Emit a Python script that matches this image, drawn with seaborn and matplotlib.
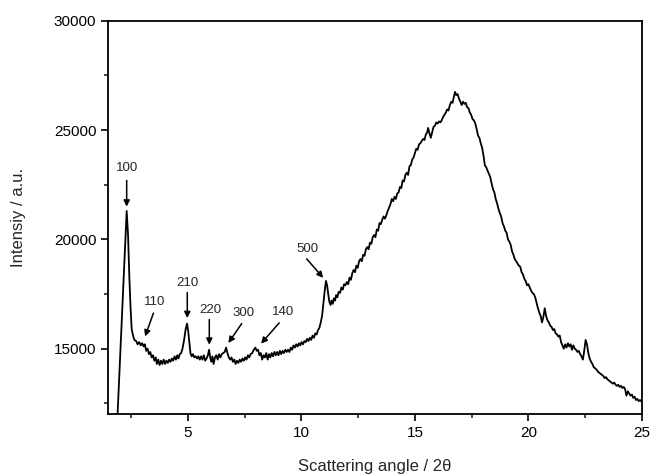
import pandas as pd
import matplotlib
matplotlib.use('Agg')
import matplotlib.pyplot as plt
import seaborn as sns

# -------------------------
# Data
# -------------------------
two_theta = [
    1.89, 2.30, 2.36, 2.42, 2.47, 2.52, 2.58, 2.64, 2.72, 2.78, 2.85, 2.92, 2.98, 3.05, 3.10,
    3.16, 3.22, 3.28, 3.34, 3.40, 3.46, 3.52, 3.58, 3.63, 3.69, 3.75, 3.81, 3.87, 3.93, 3.99,
    4.05, 4.11, 4.17, 4.23, 4.29, 4.35, 4.41, 4.47, 4.53, 4.58, 4.64, 4.70, 4.76, 4.83, 4.90,
    4.96, 5.01, 5.06, 5.11, 5.16, 5.22, 5.28, 5.34, 5.40, 5.46, 5.52, 5.58, 5.64, 5.70, 5.76,
    5.82, 5.88, 5.93, 5.98, 6.03, 6.08, 6.13, 6.19, 6.25, 6.31, 6.37, 6.43, 6.49, 6.55, 6.62,
    6.68, 6.74, 6.80, 6.86, 6.92, 6.98, 7.04, 7.10, 7.16, 7.22, 7.28, 7.34, 7.40, 7.46, 7.52,
    7.58, 7.64, 7.70, 7.76, 7.83, 7.90, 7.97, 8.03, 8.09, 8.15, 8.21, 8.27, 8.33, 8.39, 8.45,
    8.51, 8.57, 8.63, 8.69, 8.75, 8.81, 8.87, 8.93, 8.99, 9.05, 9.11, 9.17, 9.23, 9.29, 9.35,
    9.41, 9.47, 9.53, 9.59, 9.65, 9.71, 9.77, 9.83, 9.89, 9.95, 10.01, 10.07, 10.13, 10.19, 10.25,
    10.31, 10.37, 10.43, 10.49, 10.55, 10.61, 10.67, 10.73, 10.79, 10.85, 10.91, 10.96, 11.02, 11.08, 11.13,
    11.18, 11.23, 11.28, 11.33, 11.38, 11.43, 11.48, 11.53, 11.58, 11.64, 11.70, 11.76, 11.82, 11.88, 11.94,
    12.00, 12.06, 12.12, 12.18, 12.24, 12.30, 12.36, 12.42, 12.48, 12.54, 12.60, 12.66, 12.72, 12.78, 12.84,
    12.90, 12.96, 13.02, 13.08, 13.14, 13.20, 13.26, 13.32, 13.38, 13.44, 13.50, 13.56, 13.62, 13.68, 13.74,
    13.80, 13.86, 13.92, 13.98, 14.04, 14.10, 14.16, 14.22, 14.28, 14.34, 14.40, 14.46, 14.52, 14.58, 14.64,
    14.70, 14.76, 14.82, 14.88, 14.94, 15.00, 15.06, 15.12, 15.18, 15.24, 15.30, 15.36, 15.42, 15.48, 15.54,
    15.58, 15.64, 15.70, 15.76, 15.82, 15.88, 15.94, 16.00, 16.06, 16.12, 16.18, 16.24, 16.30, 16.36, 16.42,
    16.48, 16.54, 16.60, 16.66, 16.72, 16.77, 16.82, 16.88, 16.94, 17.00, 17.06, 17.12, 17.18, 17.24, 17.30,
    17.36, 17.42, 17.48, 17.54, 17.60, 17.66, 17.72, 17.78, 17.84, 17.90, 17.96, 18.02, 18.08, 18.14, 18.20,
    18.26, 18.32, 18.38, 18.44, 18.50, 18.56, 18.62, 18.68, 18.74, 18.80, 18.86, 18.92, 18.98, 19.04, 19.10,
    19.16, 19.22, 19.28, 19.34, 19.40, 19.46, 19.52, 19.58, 19.64, 19.70, 19.76, 19.82, 19.88, 19.94, 20.00,
    20.06, 20.12, 20.18, 20.24, 20.30, 20.36, 20.42, 20.48, 20.54, 20.60, 20.66, 20.72, 20.78, 20.84, 20.90,
    20.96, 21.02, 21.08, 21.14, 21.20, 21.26, 21.32, 21.38, 21.44, 21.50, 21.56, 21.62, 21.68, 21.74, 21.80,
    21.86, 21.92, 21.98, 22.04, 22.10, 22.16, 22.22, 22.28, 22.34, 22.40, 22.46, 22.52, 22.58, 22.64, 22.70,
    22.76, 22.82, 22.88, 22.94, 23.00, 23.06, 23.12, 23.18, 23.24, 23.30, 23.36, 23.42, 23.48, 23.54, 23.60,
    23.66, 23.72, 23.78, 23.84, 23.90, 23.96, 24.02, 24.08, 24.14, 24.20, 24.26, 24.32, 24.38, 24.44, 24.50,
    24.56, 24.62, 24.68, 24.74, 24.80, 24.86, 24.92, 24.98,
]
intensity = [
    11800, 21300, 20200, 18200, 16900, 15900, 15600, 15400, 15350, 15200, 15300, 15150, 15250, 15100, 15200,
    14900, 15000, 14750, 14850, 14600, 14700, 14450, 14600, 14300, 14500, 14250, 14450, 14300, 14500, 14300,
    14450, 14350, 14500, 14400, 14550, 14450, 14650, 14500, 14700, 14550, 14750, 14800, 15000, 15400, 15900,
    16150, 15800, 15300, 14800, 14650, 14750, 14600, 14650, 14550, 14650, 14500, 14650, 14500, 14700, 14450,
    14550, 14700, 14950, 14600, 14400, 14650, 14300, 14600, 14700, 14500, 14750, 14600, 14750, 14800, 14850,
    15050, 14800, 14600, 14500, 14600, 14400, 14500, 14300, 14450, 14350, 14500, 14400, 14550, 14450, 14600,
    14500, 14700, 14600, 14750, 14800, 14950, 15050, 14900, 14950, 14700, 14800, 14500, 14700, 14600, 14800,
    14500, 14750, 14600, 14800, 14650, 14850, 14700, 14850, 14700, 14900, 14750, 14900, 14800, 14950, 14850,
    14950, 14850, 15050, 14950, 15150, 15050, 15200, 15100, 15250, 15150, 15300, 15200, 15350, 15300, 15450,
    15350, 15500, 15400, 15600, 15500, 15700, 15650, 15850, 15950, 16200, 16500, 17000, 17600, 18100, 17900,
    17500, 17150, 17000, 17200, 17050, 17300, 17200, 17450, 17350, 17600, 17550, 17800, 17700, 17950, 17900,
    18050, 17950, 18250, 18150, 18450, 18600, 18500, 18800, 18700, 19000, 19100, 19000, 19300, 19250, 19550,
    19650, 19550, 19850, 19800, 20100, 20200, 20100, 20450, 20400, 20750, 20700, 20900, 21050, 20950, 21100,
    21300, 21450, 21600, 21850, 21750, 21950, 21850, 22100, 22150, 22400, 22350, 22700, 22650, 22950, 23050,
    22950, 23350, 23400, 23650, 23750, 23950, 24150, 24100, 24350, 24400, 24500, 24600, 24550, 24800, 24900,
    25100, 24850, 24650, 24900, 25150, 25200, 25350, 25300, 25400, 25350, 25450, 25600, 25700, 25800, 25950,
    25900, 26150, 26300, 26250, 26550, 26750, 26600, 26650, 26450, 26300, 26150, 26300, 26200, 26250, 26050,
    26000, 25800, 25700, 25500, 25450, 25300, 25050, 24750, 24650, 24400, 24200, 23850, 23400, 23300, 23150,
    23000, 22850, 22550, 22300, 22150, 21850, 21650, 21400, 21200, 21050, 20750, 20600, 20400, 20300, 20000,
    19900, 19750, 19450, 19300, 19100, 19000, 18900, 18800, 18750, 18500, 18400, 18200, 18100, 17900, 17950,
    17800, 17650, 17550, 17500, 17350, 17100, 16850, 16650, 16500, 16200, 16450, 16850, 16500, 16300, 16200,
    16050, 16000, 15850, 15900, 15700, 15650, 15550, 15600, 15300, 15150, 15000, 15200, 15050, 15250, 15100,
    15200, 14950, 15150, 15000, 14950, 14850, 14900, 14750, 14650, 14500, 14900, 15400, 15200, 14800, 14550,
    14400, 14300, 14150, 14100, 14050, 13950, 13900, 13850, 13800, 13750, 13650, 13700, 13600, 13550, 13500,
    13450, 13400, 13450, 13350, 13300, 13350, 13250, 13300, 13200, 13250, 13150, 12850, 13050, 12950, 12850,
    12900, 12750, 12800, 12650, 12700, 12600, 12650, 12580,
]

# Reflection labels and where they point (2theta, intensity)
peak_labels = ['100', '110', '210', '220', '300', '140', '500']
peak_pos = [(2.30, 21500), (3.11, 15560), (4.97, 16400), (5.94, 15180),
            (6.78, 15260), (8.22, 15230), (10.96, 18240)]

df = pd.DataFrame({'two_theta': two_theta, 'intensity': intensity})

# -------------------------
# Style
# -------------------------
sns.set_style('ticks')
plt.rcParams['font.family'] = ['Liberation Sans', 'DejaVu Sans']

fig = plt.figure(figsize=(6.51, 4.74), dpi=100)
ax = fig.add_axes([0.166, 0.127, 0.820, 0.829])

sns.lineplot(data=df, x='two_theta', y='intensity', color='black', linewidth=1.3,
             sort=False, estimator=None, ax=ax)

ax.set_xlim(1.48, 25)
ax.set_ylim(12020, 30000)
ax.set_xticks([5, 10, 15, 20, 25])
ax.set_xticks([2.5, 7.5, 12.5, 17.5, 22.5], minor=True)
ax.set_yticks([15000, 20000, 25000, 30000])
ax.set_yticks([12500, 17500, 22500, 27500], minor=True)
ax.tick_params(which='major', direction='out', length=5, width=1.2, labelsize=11, colors='black')
ax.tick_params(which='minor', direction='out', length=3, width=1.2)
for s in ax.spines.values():
    s.set_linewidth(1.3)
    s.set_color('black')

ax.set_xlabel('Scattering angle / 2θ', fontsize=12, labelpad=14)
ax.set_ylabel('Intensiy / a.u.', fontsize=12, labelpad=20)

# text offsets (data units) relative to the arrow heads
offsets = [(0.0, 1750), (0.44, 1580), (0.0, 1610), (0.03, 1610),
           (0.66, 1370), (0.98, 1450), (-0.70, 1330)]
tails = [(0.0, 1200), (0.37, 1070), (0.0, 1170), (0.0, 1150),
         (0.59, 890), (0.80, 950), (-0.73, 870)]
for lab, (px, py), (ox, oy), (tx, ty) in zip(peak_labels, peak_pos, offsets, tails):
    ax.annotate('', xy=(px, py), xytext=(px + tx, py + ty),
                arrowprops=dict(arrowstyle='-|>', color='black', lw=1.1,
                                mutation_scale=9, shrinkA=0, shrinkB=0))
    ax.text(px + ox, py + oy, lab, ha='center', va='center', fontsize=9.5)

fig.savefig('out.png', dpi=100)
